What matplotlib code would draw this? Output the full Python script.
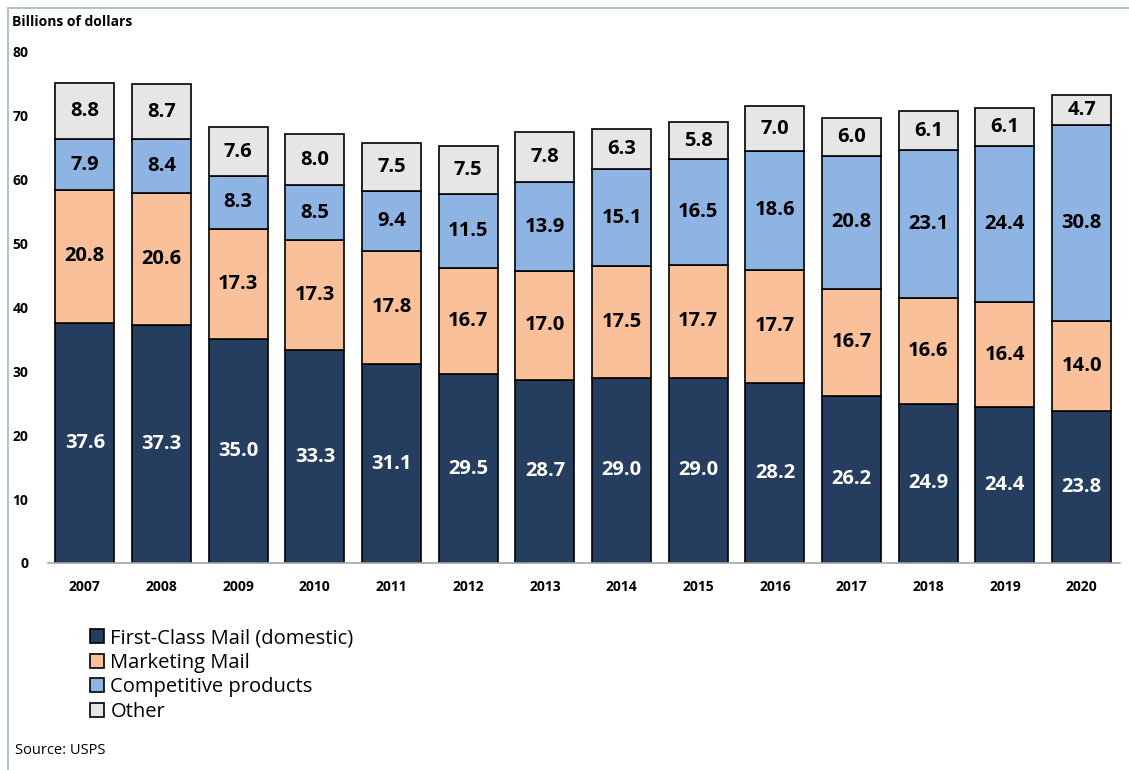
import matplotlib.pyplot as plt
from matplotlib.lines import Line2D
from matplotlib.patches import Patch
import numpy as np

plt.rcParams['font.family'] = ['Open Sans', 'DejaVu Sans']

years = ["2007", "2008", "2009", "2010", "2011", "2012", "2013",
         "2014", "2015", "2016", "2017", "2018", "2019", "2020"]
first_class = [37.6, 37.3, 35.0, 33.3, 31.1, 29.5, 28.7, 29.0, 29.0, 28.2, 26.2, 24.9, 24.4, 23.8]
marketing = [20.8, 20.6, 17.3, 17.3, 17.8, 16.7, 17.0, 17.5, 17.7, 17.7, 16.7, 16.6, 16.4, 14.0]
competitive = [7.9, 8.4, 8.3, 8.5, 9.4, 11.5, 13.9, 15.1, 16.5, 18.6, 20.8, 23.1, 24.4, 30.8]
other = [8.8, 8.7, 7.6, 8.0, 7.5, 7.5, 7.8, 6.3, 5.8, 7.0, 6.0, 6.1, 6.1, 4.7]

series = [
    ("First-Class Mail (domestic)", first_class, "#253D5E", "white"),
    ("Marketing Mail", marketing, "#F9C09A", "black"),
    ("Competitive products", competitive, "#8EB4E3", "black"),
    ("Other", other, "#E6E6E6", "black"),
]

fig = plt.figure(figsize=(11.29, 7.70), dpi=100)
ax = fig.add_axes([0.0425, 0.269, 0.9495, 0.6635])

x = np.arange(len(years))
bottom = np.zeros(len(years))
handles = []
for name, vals, color, txt in series:
    vals = np.array(vals)
    ax.bar(x, vals, bottom=bottom, width=0.77, color=color,
           edgecolor="black", linewidth=1.2, zorder=2)
    for xi, b, v in zip(x, bottom, vals):
        ax.text(xi, b + v / 2, f"{v:.1f}", ha="center", va="center",
                color=txt, fontsize=14.5, fontweight="bold", zorder=3)
    bottom += vals
    handles.append(Patch(facecolor=color, edgecolor="black", linewidth=1.2, label=name))

ax.set_ylim(0, 80)
ax.set_xlim(-0.48, 13.5)
ax.set_yticks(range(0, 81, 10))
ax.set_xticks(x)
ax.set_xticklabels(years)
ax.tick_params(length=0, labelsize=10, pad=12)
ax.tick_params(axis="y", pad=14)
for lab in ax.get_xticklabels() + ax.get_yticklabels():
    lab.set_fontweight("bold")
for side in ("top", "right", "left"):
    ax.spines[side].set_visible(False)
ax.spines["bottom"].set_color("#A6A6A6")
ax.spines["bottom"].set_linewidth(1.2)

fig.text(0.011, 0.972, "Billions of dollars", fontsize=10, fontweight="bold",
         ha="left", va="center")

leg = fig.legend(handles=handles, loc="upper left", bbox_to_anchor=(0.071, 0.197),
                 frameon=False, fontsize=14.5, handlelength=0.7, handleheight=0.7,
                 handletextpad=0.3, labelspacing=0.22, borderpad=0)

fig.text(0.013, 0.025, "Source: USPS", fontsize=10.5, ha="left", va="center")

# thin frame along the top and left edges
fig.add_artist(Line2D([0.007, 1.0], [0.99, 0.99], color="#B4C3D3", linewidth=1.5,
                      transform=fig.transFigure))
fig.add_artist(Line2D([0.007, 0.007], [0.0, 0.99], color="#B4C3D3", linewidth=1.5,
                      transform=fig.transFigure))

fig.savefig("out.png", dpi=100)
